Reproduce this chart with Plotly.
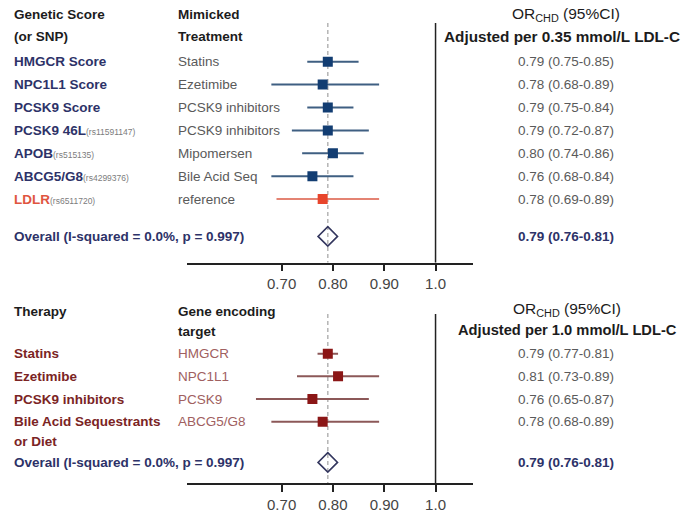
import plotly.graph_objects as go

# ---- data: genetic scores / SNPs (top panel) ----
genes_top = ["HMGCR Score", "NPC1L1 Score", "PCSK9 Score", "PCSK9 46L", "APOB", "ABCG5/G8", "LDLR"]
snps_top = ["", "", "", "rs11591147", "rs515135", "rs4299376", "rs6511720"]
treatments_top = ["Statins", "Ezetimibe", "PCSK9 inhibitors", "PCSK9 inhibitors",
                  "Mipomersen", "Bile Acid Seq", "reference"]
or_top = [0.79, 0.78, 0.79, 0.79, 0.80, 0.76, 0.78]
lo_top = [0.75, 0.68, 0.75, 0.72, 0.74, 0.68, 0.69]
hi_top = [0.85, 0.89, 0.84, 0.87, 0.86, 0.84, 0.89]
overall_top = [0.79, 0.76, 0.81]

# ---- data: therapies (bottom panel) ----
therapies = ["Statins", "Ezetimibe", "PCSK9 inhibitors", "Bile Acid Sequestrants\nor Diet"]
genes_bottom = ["HMGCR", "NPC1L1", "PCSK9", "ABCG5/G8"]
or_bot = [0.79, 0.81, 0.76, 0.78]
lo_bot = [0.77, 0.73, 0.65, 0.68]
hi_bot = [0.81, 0.89, 0.87, 0.89]
overall_bot = [0.79, 0.76, 0.81]

overall_label = "Overall (I-squared = 0.0%, p = 0.997)"
tick_vals = [0.70, 0.80, 0.90, 1.0]
tick_text = ["0.70", "0.80", "0.90", "1.0"]

# ---- styling ----
W, H = 684, 512
FONT = "Liberation Sans, Arial, sans-serif"
FS = 13.5
NAVY_TXT = "#2d3268"
RED_TXT = "#e0553f"
MAROON_TXT = "#7b2424"
GENE_TXT = "#a06060"
GREY_TXT = "#5a5a5a"
HEAD_TXT = "#1c1c1c"
BLUE_SQ, BLUE_LN = "#123d72", "#3f5f82"
RED_SQ, RED_LN = "#e8452c", "#e48373"
MAR_SQ, MAR_LN = "#8b1616", "#8c5858"
DIAMOND = "#33365e"

X_LEFT = 12 / W
X_MID = 176 / W
X_RIGHT = 566 / W

fig = go.Figure()


def fmt(e, l, h):
    return f"{e:.2f} ({l:.2f}-{h:.2f})"


def txt(s, x, y, yref, color, bold=False, size=FS, xanchor="left"):
    if bold:
        s = f"<b>{s}</b>"
    fig.add_annotation(x=x, y=y, xref="paper", yref=yref, text=s, showarrow=False,
                       xanchor=xanchor, yanchor="middle",
                       font=dict(family=FONT, size=size, color=color))


def forest(xa, ya, rows, est, lo, hi, sq, ln):
    fig.add_trace(go.Scatter(
        x=est, y=rows, xaxis=xa, yaxis=ya, mode="markers",
        marker=dict(symbol="square", size=10, color=sq),
        error_x=dict(type="data", symmetric=False,
                     array=[h - e for e, h in zip(est, hi)],
                     arrayminus=[e - l for e, l in zip(est, lo)],
                     width=0, thickness=2, color=ln),
        showlegend=False, hoverinfo="skip"))


def pooled(xa, ya, row, est):
    fig.add_trace(go.Scatter(
        x=[est], y=[row], xaxis=xa, yaxis=ya, mode="markers",
        marker=dict(symbol="diamond-open", size=15, color=DIAMOND,
                    line=dict(width=1.6, color=DIAMOND)),
        showlegend=False, hoverinfo="skip"))


# ---- top panel markers (row index units) ----
rows_top = list(range(len(genes_top)))
ov_row_top = 7.63
blue_idx = [i for i in rows_top if genes_top[i] != "LDLR"]
red_idx = [i for i in rows_top if genes_top[i] == "LDLR"]
for idx, sq, ln in [(blue_idx, BLUE_SQ, BLUE_LN), (red_idx, RED_SQ, RED_LN)]:
    forest("x", "y", [rows_top[i] for i in idx], [or_top[i] for i in idx],
           [lo_top[i] for i in idx], [hi_top[i] for i in idx], sq, ln)
pooled("x", "y", ov_row_top, overall_top[0])

# ---- bottom panel markers ----
rows_bot = list(range(len(therapies)))
ov_row_bot = 4.79
forest("x2", "y2", rows_bot, or_bot, lo_bot, hi_bot, MAR_SQ, MAR_LN)
pooled("x2", "y2", ov_row_bot, overall_bot[0])

# ---- reference lines: null (1.0) solid, pooled estimate dashed ----
for xr, yr, top, bottom, est in [("x", "y", -1.69, 8.777, overall_top[0]),
                                 ("x2", "y2", -1.75, 5.709, overall_bot[0])]:
    fig.add_shape(type="line", xref=xr, yref=yr, x0=1.0, x1=1.0, y0=top, y1=bottom,
                  line=dict(color="#222222", width=1.5), layer="below")
    fig.add_shape(type="line", xref=xr, yref=yr, x0=est, x1=est, y0=top, y1=bottom,
                  line=dict(color="#b4b4b4", width=1.5, dash="4px,3px"), layer="below")

# ---- top panel text ----
txt("Genetic Score", X_LEFT, -2.08, "y", HEAD_TXT, bold=True)
txt("(or SNP)", X_LEFT, -1.08, "y", HEAD_TXT, bold=True)
txt("Mimicked", X_MID, -2.08, "y", HEAD_TXT, bold=True)
txt("Treatment", X_MID, -1.08, "y", HEAD_TXT, bold=True)
txt("OR<sub>CHD</sub> (95%CI)", X_RIGHT, -2.04, "y", HEAD_TXT, size=15.5, xanchor="center")
txt("<b>Adjusted per 0.35 mmol/L LDL-C</b>", 562 / W, -1.1, "y", HEAD_TXT, size=15.3,
    xanchor="center")
for i in rows_top:
    col = RED_TXT if genes_top[i] == "LDLR" else NAVY_TXT
    lab = f"<b>{genes_top[i]}</b>"
    if snps_top[i]:
        lab += f"<span style='font-size:8.5px;color:#7c7c7c;font-weight:normal'>({snps_top[i]})</span>"
    txt(lab, X_LEFT, i, "y", col)
    txt(treatments_top[i], X_MID, i, "y", GREY_TXT)
    txt(fmt(or_top[i], lo_top[i], hi_top[i]), X_RIGHT, i, "y", GREY_TXT, xanchor="center")
txt(overall_label, X_LEFT, ov_row_top, "y", NAVY_TXT, bold=True)
txt(fmt(*overall_top), X_RIGHT, ov_row_top, "y", NAVY_TXT, bold=True, xanchor="center")

# ---- bottom panel text ----
txt("Therapy", X_LEFT, -1.85, "y2", HEAD_TXT, bold=True)
txt("Gene encoding", X_MID, -1.85, "y2", HEAD_TXT, bold=True)
txt("target", X_MID, -0.97, "y2", HEAD_TXT, bold=True)
txt("OR<sub>CHD</sub> (95%CI)", 567 / W, -1.95, "y2", HEAD_TXT, size=15.5, xanchor="center")
txt("<b>Adjusted per 1.0 mmol/L LDL-C</b>", 567 / W, -1.04, "y2", HEAD_TXT, size=14.7,
    xanchor="center")
for i in rows_bot:
    for k, line in enumerate(therapies[i].split("\n")):
        txt(line, X_LEFT, i + 0.85 * k, "y2", MAROON_TXT, bold=True)
    txt(genes_bottom[i], X_MID, i, "y2", GENE_TXT)
    txt(fmt(or_bot[i], lo_bot[i], hi_bot[i]), X_RIGHT, i, "y2", GREY_TXT, xanchor="center")
txt(overall_label, X_LEFT, ov_row_bot, "y2", NAVY_TXT, bold=True)
txt(fmt(*overall_bot), X_RIGHT, ov_row_bot, "y2", NAVY_TXT, bold=True, xanchor="center")

# ---- axes ----
xdom = [186.7 / W, 473 / W]
xcommon = dict(range=[0.515, 1.073], domain=xdom, showgrid=False, zeroline=False,
               showline=True, linecolor="#222222", linewidth=1.5,
               ticks="outside", ticklen=7, tickwidth=1.5, tickcolor="#222222",
               tickvals=tick_vals, ticktext=tick_text,
               tickfont=dict(family=FONT, size=15, color="#444444"), fixedrange=True)
ycommon = dict(visible=False, showgrid=False, zeroline=False, fixedrange=True)

fig.update_layout(
    width=W, height=H, margin=dict(l=0, r=0, t=0, b=0),
    paper_bgcolor="white", plot_bgcolor="white",
    xaxis=dict(anchor="y", **xcommon),
    yaxis=dict(domain=[1 - 262.7 / H, 1.0], range=[8.777, -2.694], **ycommon),
    xaxis2=dict(anchor="y2", **xcommon),
    yaxis2=dict(domain=[1 - 483.3 / H, 1 - 300 / H], range=[5.709, -2.361], **ycommon),
    showlegend=False,
)

fig.write_html("out.html")
